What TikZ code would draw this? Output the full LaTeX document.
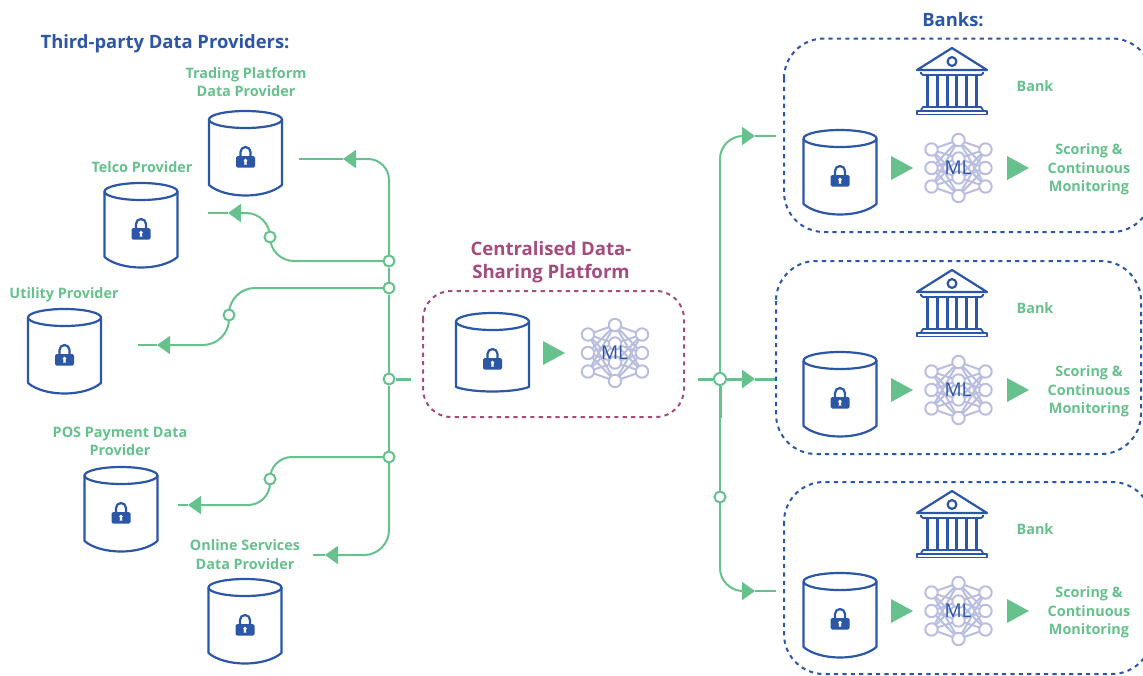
\documentclass[tikz,border=0pt]{standalone}
\usepackage{fontspec}
\setmainfont{Open Sans}
\usetikzlibrary{arrows.meta}
\pgfdeclarelayer{bg}
\pgfdeclarelayer{wires}
\pgfsetlayers{bg,wires,main}
\definecolor{gr}{HTML}{66C18D}
\definecolor{bl}{HTML}{2C56A6}
\definecolor{lv}{HTML}{B9BEE0}
\definecolor{pu}{HTML}{A34C7E}
\tikzset{
  conn/.style={draw=gr,line width=2pt},
  stub/.style={draw=gr,line width=3pt},
  arr/.style={-{Triangle[length=13pt,width=18pt,inset=0pt,fill=gr]}},
  junc/.style={circle,draw=gr,fill=white,line width=2pt,inner sep=0pt,minimum size=11pt},
  lab/.style={font=\bfseries\fontsize{14.4}{18.5}\selectfont,text=gr,align=center,inner sep=0pt},
  head/.style={font=\bfseries\fontsize{18.4}{22}\selectfont,text=bl,align=center,inner sep=0pt},
  dashbox/.style={draw=bl,line width=2pt,dash pattern=on 4.2pt off 4.2pt,rounded corners=40pt},
  flow/.style={fill=gr},
  icon/.style={draw=bl,line width=2.2pt,line join=round},
  pics/db/.style={code={
    \draw[icon,fill=white] (-36.5,8.5) -- (-36.5,74) .. controls (-20,#1) and (20,#1) .. (36.5,74) -- (36.5,8.5);
    \draw[icon,fill=white] (0,8.5) ellipse [x radius=36.5,y radius=8.5];
    \draw[bl,line width=2.2pt] (-5,45) -- (-5,41) arc[start angle=180,end angle=360,radius=5] -- (5,45);
    \fill[bl,rounded corners=1.5pt] (-9.5,45) rectangle (9.5,56.5);
    \fill[white] (0,49.5) circle (1.9);
    \fill[white] (-1,50) -- (1,50) -- (1.3,53.6) -- (-1.3,53.6) -- cycle;
  }},
  pics/db/.default=88,
  pics/ml/.style={code={
    \foreach \ax/\ay in {-27/-18.5,-27/0,-27/18.5,27/-18.5,27/0,27/18.5}
      \foreach \bx/\by in {0/-28,0/-9.5,0/9.5,0/28}
        \draw[lv,line width=2pt] (\ax,\ay) -- (\bx,\by);
    \foreach \cx/\cy in {-27/-18.5,-27/0,-27/18.5,27/-18.5,27/0,27/18.5,0/-28,0/-9.5,0/9.5,0/28}
      \draw[lv,line width=2pt,fill=white] (\cx,\cy) circle (6.2);
    \node[inner sep=0pt,text=bl,font=\fontsize{19}{22}\selectfont] (-text) at (-0.5,0) {ML};
  }},
  pics/bankicon/.style={code={
    \draw[icon] (0,0) -- (35,22) -- (-35,22) -- cycle;
    \draw[icon] (0,13.5) circle (4.4);
    \draw[icon,line width=1.8pt] (-31,24) -- (-31,25.5) -- (-29,27) -- (29,27) -- (31,25.5) -- (31,24);
    \foreach \cx in {-24.5,-14.5,-4.7,4.7,14.5,24.5}
      \draw[bl,line width=2.8pt] (\cx,27) -- (\cx,58);
    \draw[icon,line width=1.8pt] (-31,62) -- (-29,59) -- (29,59) -- (31,62);
    \draw[icon,line width=1.8pt] (-35,63) rectangle (35,66.5);
  }},
  pics/bankgroup/.style={code={
    \pic (-bank) at (952,48) {bankicon};
    \pic (-db) at (840,130) {db};
    \pic (-ml) at (958.5,168) {ml};
    \fill[flow] (891,156) -- (913,168) -- (891,180) -- cycle;
    \fill[flow] (1007,156) -- (1029,168) -- (1007,180) -- cycle;
    \node[lab] (-banklab) at (1035,86) {Bank};
    \node[lab] (-score) at (1089,169.5) {Scoring \&\\Continuous\\Monitoring};
  }},
}
\begin{document}
\begin{tikzpicture}[x=1pt,y=-1pt]
\useasboundingbox (0,0) rectangle (1143,675);
\begin{pgfonlayer}{bg}
\fill[white] (0,0) rectangle (1143,675);
\end{pgfonlayer}

% containers
\begin{scope}
\clip (0,0) rectangle (1143,675);
\draw[dashbox] (784,38.5) rectangle (1152,232);
\draw[dashbox] (776,261) rectangle (1141,454);
\draw[dashbox] (784,482) rectangle (1152,674);
\draw[dashbox,draw=pu,rounded corners=28pt] (423,291) rectangle (684,417);
\end{scope}

% headings and labels
\node[head] (tp) at (165,44) {Third-party Data Providers:};
\node[head] (banks) at (953,20) {Banks:};
\node[lab] (l1) at (246,82) {Trading Platform\\Data Provider};
\node[lab] (l2) at (142,167) {Telco Provider};
\node[lab] (l3) at (64,295) {Utility Provider};
\node[lab] (l4) at (120,441.5) {POS Payment Data\\Provider};
\node[lab] (l5) at (245,554.5) {Online Services\\Data Provider};
\node[head,text=pu,font=\bfseries\fontsize{18.6}{22.5}\selectfont] (cl) at (551,262) {Centralised Data-\\Sharing Platform};

% provider databases
\pic (d1) at (245.5,111) {db};
\pic (d2) at (141,183) {db};
\pic (d3) at (64.5,309) {db};
\pic (d4) at (121,467) {db};
\pic (d5) at (245,579) {db};
\pic (d6) at (492.5,313) {db=80};
\pic (m6) at (615,353) {ml};
\fill[flow] (543,341) -- (565,353) -- (543,365) -- cycle;

% bank groups
\pic (g1) {bankgroup};
\begin{scope}[shift={(0,222)}]\pic (g2) {bankgroup};\end{scope}
\begin{scope}[shift={(0,443)}]\pic (g3) {bankgroup};\end{scope}

% junctions
\node[junc] (j1) at (389,261) {};
\node[junc] (j2) at (389,288) {};
\node[junc] (j3) at (389,379) {};
\node[junc] (j4) at (389,457) {};
\node[junc] (s1) at (270,237) {};
\node[junc] (s2) at (229,315) {};
\node[junc] (s3) at (270,479) {};
\node[junc,minimum size=12pt] (r1) at (720,379) {};
\node[junc] (r2) at (720,497) {};

% free ends
\coordinate (a1) at (343,159); \coordinate (e1) at (299,159);
\coordinate (a2) at (228,213); \coordinate (e2) at (208,213);
\coordinate (a3) at (157,345); \coordinate (e3) at (138,345);
\coordinate (a4) at (188,505); \coordinate (e4) at (178,505);
\coordinate (a5) at (325,555); \coordinate (e5) at (313,555);
\coordinate (st) at (411,379);
\coordinate (rs) at (698,379);
\coordinate (rst) at (720,418);
\coordinate (b1) at (755,136); \coordinate (f1) at (776,136);
\coordinate (b2) at (755,379); \coordinate (f2) at (776,379);
\coordinate (b3) at (755,591); \coordinate (f3) at (776,591);

\begin{pgfonlayer}{wires}
% left trunk
\draw[conn] (j1) -- (j2);
\draw[conn] (j2) -- (j3);
\draw[conn] (j3) -- (j4);
\draw[conn,arr,rounded corners=21pt] (j1.center) |- (a1);
\draw[conn] (a1) -- (e1);
\draw[conn,rounded corners=24pt] (j1.center) -| (s1.center);
\draw[conn,arr,rounded corners=24pt] (s1.center) |- (a2);
\draw[conn] (a2) -- (e2);
\draw[conn,rounded corners=26pt] (j2.center) -| (s2.center);
\draw[conn,arr,rounded corners=26pt] (s2.center) |- (a3);
\draw[conn] (a3) -- (e3);
\draw[conn,rounded corners=22pt] (j4.center) -| (s3.center);
\draw[conn,arr,rounded corners=22pt] (s3.center) |- (a4);
\draw[conn] (a4) -- (e4);
\draw[conn,arr,rounded corners=25pt] (j4.center) |- (a5);
\draw[conn] (a5) -- (e5);
\draw[stub] (j3) -- (st);

% right trunk
\draw[stub] (rs) -- (r1);
\draw[conn,arr,rounded corners=23pt] (r1.center) |- (b1);
\draw[conn] (b1) -- (f1);
\draw[stub,arr] (r1) -- (b2);
\draw[stub] (b2) -- (f2);
\draw[stub] (r1) -- (rst);
\draw[conn] (rst) -- (r2);
\draw[conn,arr,rounded corners=23pt] (r2.center) |- (b3);
\draw[conn] (b3) -- (f3);
\end{pgfonlayer}
\end{tikzpicture}
\end{document}
